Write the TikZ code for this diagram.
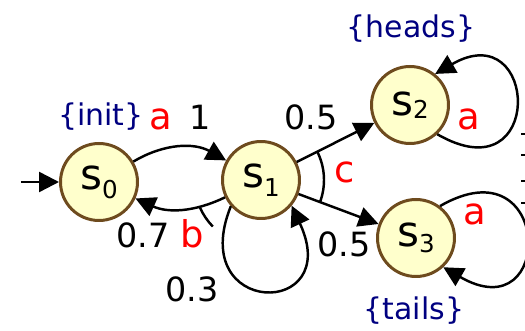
\documentclass[tikz,border=0pt]{standalone}
\usepackage{fontspec}
\setmainfont{DejaVu Sans}
\usepackage{tikz}
\usetikzlibrary{arrows.meta,positioning}

\definecolor{stfill}{RGB}{255,255,204}
\definecolor{stdraw}{RGB}{110,75,30}
\definecolor{apname}{RGB}{0,0,128}

% state name with a lowered index; optional drop of the index
\newcommand{\stname}[2][5pt]{s\raisebox{-#1}{\fontsize{14}{14}\selectfont #2}}

\begin{document}
\begin{tikzpicture}[
    >={Triangle[length=4mm,width=4mm]},
    state/.style={circle, draw=stdraw, fill=stfill, line width=1.7pt, minimum size=15.4mm, inner sep=0pt, font=\fontsize{24}{24}\selectfont},
    trans/.style={line width=1.4pt},
    prob/.style={anchor=base, font=\fontsize{19}{19}\selectfont},
    act/.style={anchor=base, text=red, font=\fontsize{21}{21}\selectfont},
    ap/.style={anchor=base, text=apname, font=\fontsize{17}{17}\selectfont}
]
\useasboundingbox (0,0) rectangle (10.5,-6.62);

% States
\node[state] (s0) at (1.98,-3.64) {\stname{0}};
\node[state] (s1) at (5.22,-3.60) {\stname{1}};
\node[state] (s2) at (8.20,-2.10) {\stname[2pt]{2}};
\node[state] (s3) at (8.32,-4.76) {\stname[3.5pt]{3}};

% Initial arrow
\coordinate (init) at (0.42,-3.64);
\draw[trans,->] (init) -- (s0);

% Transitions
\draw[trans,->] (s0) to[bend left=30] (s1);
\draw[trans,->] (s1) to[bend left=25] (s0);
\draw[trans,->] (s1.221) .. controls +(248:2.4) and +(-65:2.5) .. (s1.-40);
\draw[trans,->] (s1) -- (s2);
\draw[trans,->] (s1) -- (s3);
\draw[trans,->] (s2.-47) .. controls +(-30:2.5) and +(30:2.4) .. (s2.51);
\draw[trans,->] (s3.53) .. controls +(30:2.6) and +(-30:2.6) .. (s3.-47);

% Arcs joining the branches of b and c
\draw[trans] (s1.center) ++(204:1.34) arc[start angle=204, end angle=224, radius=1.34];
\draw[trans] (s1.center) ++(-21:1.26) arc[start angle=-21, end angle=27, radius=1.26];

% Atomic propositions
\node[ap] (lab0) at (2.02,-2.52) {\{init\}};
\node[ap] (lab2) at (8.22,-0.76) {\{heads\}};
\node[ap] (lab3) at (8.28,-6.40) {\{tails\}};

% Actions and probabilities
\node[act] (act0) at (3.22,-2.60) {a};
\node[prob] (p01) at (4.0,-2.60) {1};
\node[prob] (p10) at (2.86,-4.96) {0.7};
\node[act] (act1b) at (3.84,-4.96) {b};
\node[prob] (p11) at (3.84,-6.04) {0.3};
\node[prob] (p12) at (6.22,-2.60) {0.5};
\node[act] (act1c) at (6.90,-3.66) {c};
\node[prob] (p13) at (6.88,-5.14) {0.5};
\node[act] (act2) at (9.38,-2.60) {a};
\node[act] (act3) at (9.50,-4.50) {a};

% Marks at the right edge
\foreach \y in {-2.68,-3.10,-3.62,-4.06}
    \draw[line width=1pt] (10.42,\y) -- (10.6,\y);

\end{tikzpicture}
\end{document}
